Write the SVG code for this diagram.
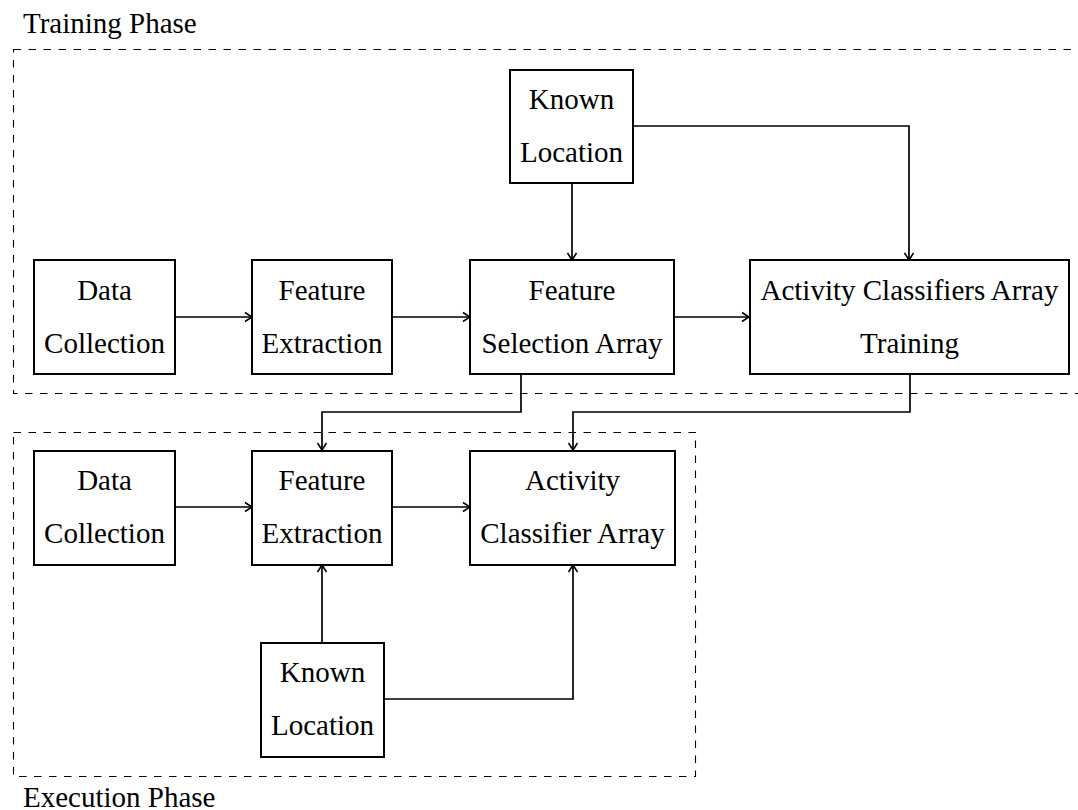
<svg xmlns="http://www.w3.org/2000/svg" width="1078" height="810" viewBox="0 0 1078 810">
  <style>
    .box { fill: #fff; stroke: #000; stroke-width: 2; }
    .phase { fill: none; stroke: #000; stroke-width: 1.1; stroke-dasharray: 7.5 7.5; }
    .lbl { font-family: "Liberation Serif", "Times New Roman", serif; font-size: 29px; fill: #000; text-anchor: middle; }
    .title { font-family: "Liberation Serif", "Times New Roman", serif; font-size: 29px; fill: #000; }
    .wire { fill: none; stroke: #000; stroke-width: 1.7; marker-end: url(#arr); }
  </style>
  <defs>
    <marker id="arr" viewBox="0 0 12 12" refX="11" refY="6" markerWidth="12" markerHeight="12" markerUnits="userSpaceOnUse" orient="auto">
      <path d="M4,1.5 L11,6 L4,10.5" fill="none" stroke="#000" stroke-width="1.6"/>
    </marker>
  </defs>
  <rect width="1078" height="810" fill="#fff"/>

  <!-- phase frames -->
  <g id="training-phase">
    <rect class="phase" x="13.5" y="49.5" width="1075" height="344"/>
    <text class="title" x="23" y="33">Training Phase</text>
  </g>
  <g id="execution-phase">
    <rect class="phase" x="13.5" y="432.5" width="682" height="344"/>
    <text class="title" x="23" y="807">Execution Phase</text>
  </g>

  <!-- connectors -->
  <g id="connectors">
    <path class="wire" d="M175,317 H252"/>
    <path class="wire" d="M392,317 H470"/>
    <path class="wire" d="M674,317 H749"/>
    <path class="wire" d="M572,183 V260"/>
    <path class="wire" d="M633,126 H909 V260"/>
    <path class="wire" d="M521,374 V412 H322 V450"/>
    <path class="wire" d="M910,374 V412 H573 V450"/>
    <path class="wire" d="M175,507 H252"/>
    <path class="wire" d="M392,507 H470"/>
    <path class="wire" d="M322,643 V565"/>
    <path class="wire" d="M384,699 H573 V565"/>
  </g>

  <!-- training nodes -->
  <g id="t-data">
    <rect class="box" x="34" y="260" width="141" height="114"/>
    <text class="lbl" x="104.5" y="300">Data</text>
    <text class="lbl" x="104.5" y="353">Collection</text>
  </g>
  <g id="t-feature">
    <rect class="box" x="252" y="260" width="140" height="114"/>
    <text class="lbl" x="322" y="300">Feature</text>
    <text class="lbl" x="322" y="353">Extraction</text>
  </g>
  <g id="t-select">
    <rect class="box" x="470" y="260" width="204" height="114"/>
    <text class="lbl" x="572" y="300">Feature</text>
    <text class="lbl" x="572" y="353">Selection Array</text>
  </g>
  <g id="t-train">
    <rect class="box" x="750" y="260" width="319" height="114"/>
    <text class="lbl" x="909.5" y="300">Activity Classifiers Array</text>
    <text class="lbl" x="909.5" y="353">Training</text>
  </g>
  <g id="t-location">
    <rect class="box" x="510" y="70" width="123" height="113"/>
    <text class="lbl" x="571.5" y="109">Known</text>
    <text class="lbl" x="571.5" y="162">Location</text>
  </g>

  <!-- execution nodes -->
  <g id="e-data">
    <rect class="box" x="34" y="451" width="141" height="114"/>
    <text class="lbl" x="104.5" y="490">Data</text>
    <text class="lbl" x="104.5" y="543">Collection</text>
  </g>
  <g id="e-feature">
    <rect class="box" x="252" y="451" width="140" height="114"/>
    <text class="lbl" x="322" y="490">Feature</text>
    <text class="lbl" x="322" y="543">Extraction</text>
  </g>
  <g id="e-classify">
    <rect class="box" x="470" y="451" width="205" height="114"/>
    <text class="lbl" x="572.5" y="490">Activity</text>
    <text class="lbl" x="572.5" y="543">Classifier Array</text>
  </g>
  <g id="e-location">
    <rect class="box" x="261" y="643" width="123" height="114"/>
    <text class="lbl" x="322.5" y="682">Known</text>
    <text class="lbl" x="322.5" y="735">Location</text>
  </g>
</svg>
